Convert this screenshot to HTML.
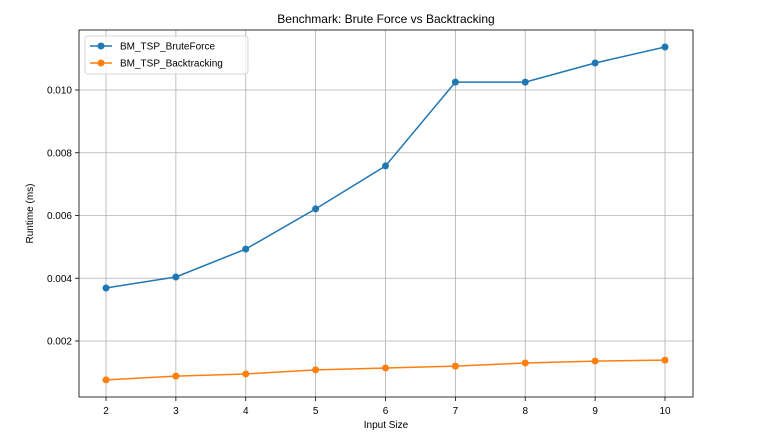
<!DOCTYPE html>
<html><head><meta charset="utf-8"><style>
body{margin:0;background:#fff;}
svg{display:block;font-family:"Liberation Sans","DejaVu Sans",sans-serif;}
</style></head><body>
<svg id="chart" width="762" height="443"></svg>
<script>
const categories=[2,3,4,5,6,7,8,9,10];
const bruteForce=[0.00369,0.00404,0.00493,0.00621,0.00758,0.01025,0.01025,0.01086,0.01137];
const backtracking=[0.00076,0.00088,0.00095,0.00108,0.00114,0.00120,0.00130,0.00136,0.00139];
const yTicks=[0.002,0.004,0.006,0.008,0.010];
const yTickLabels=["0.002","0.004","0.006","0.008","0.010"];
const seriesNames=["BM_TSP_BruteForce","BM_TSP_Backtracking"];

const L=79,R=693,T=30,B=397;
const NS="http://www.w3.org/2000/svg";
const svg=document.getElementById('chart');
const xS=v=>106+(v-2)*(665-106)/8;
const yS=v=>403.75-v*31375;
function mk(tag,attrs,parent){const e=document.createElementNS(NS,tag);for(const k in attrs)e.setAttribute(k,attrs[k]);(parent||svg).appendChild(e);return e;}

// grid + ticks
categories.forEach(c=>{
  const x=xS(c);
  const g=mk('line',{x1:x,x2:x,y1:T,y2:B,stroke:'#b0b0b0','stroke-width':0.8});
  
  
  mk('line',{x1:x,x2:x,y1:B,y2:B+4,stroke:'#000','stroke-width':0.8});
  const t=mk('text',{x:x,y:B+17,'text-anchor':'middle','font-size':10,fill:'#000'});
  t.textContent=c;
  
  
});
yTicks.forEach((v,i)=>{
  const y=yS(v);
  const g=mk('line',{x1:L,x2:R,y1:y,y2:y,stroke:'#b0b0b0','stroke-width':0.8});
  
  
  mk('line',{x1:L-4,x2:L,y1:y,y2:y,stroke:'#000','stroke-width':0.8});
  const t=mk('text',{x:L-7,y:y+3.5,'text-anchor':'end','font-size':10,fill:'#000'});
  t.textContent=yTickLabels[i];
  
  
});
const frame=mk('rect',{x:L,y:T,width:R-L,height:B-T,fill:'none',stroke:'#000','stroke-width':0.8});



const colors=['#1f77b4','#ff7f0e'];
[bruteForce,backtracking].forEach((data,si)=>{
  const pts=data.map((v,i)=>xS(categories[i])+','+yS(v)).join(' ');
  const pl=mk('polyline',{points:pts,fill:'none',stroke:colors[si],'stroke-width':1.5});
  
  
  data.forEach((v,i)=>{
    const c=mk('circle',{cx:xS(categories[i]),cy:yS(v),r:3.5,fill:colors[si]});
    
    
  });
});

// title + axis labels
let t=mk('text',{x:(L+R)/2,y:23,'text-anchor':'middle','font-size':12,fill:'#000'});
t.textContent='Benchmark: Brute Force vs Backtracking';


t=mk('text',{x:(L+R)/2,y:428,'text-anchor':'middle','font-size':10,fill:'#000'});
t.textContent='Input Size';


t=mk('text',{x:0,y:0,'text-anchor':'middle','font-size':10,fill:'#000',transform:'translate(33,'+(T+B)/2+') rotate(-90)'});
t.textContent='Runtime (ms)';



// legend
const lg=mk('g',{});


mk('rect',{x:85,y:36,width:163,height:38,rx:3,fill:'#fff','fill-opacity':0.8,stroke:'#ccc','stroke-width':0.8},lg);
seriesNames.forEach((n,i)=>{
  const y=46+i*17;
  const e=mk('g',{},lg);
  
  
  mk('line',{x1:90,x2:112,y1:y,y2:y,stroke:colors[i],'stroke-width':1.5},e);
  mk('circle',{cx:101,cy:y,r:3.5,fill:colors[i]},e);
  const tx=mk('text',{x:120,y:y+3.5,'font-size':10,fill:'#000'},e);
  tx.textContent=n;
});
</script>
</body></html>
